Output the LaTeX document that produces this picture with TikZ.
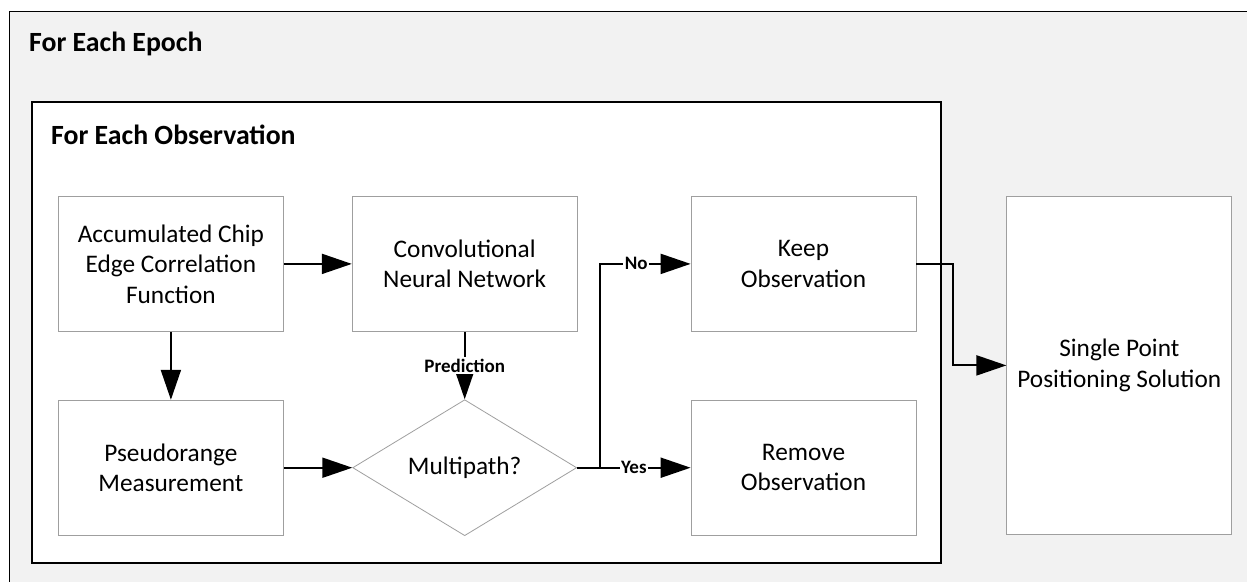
\documentclass[tikz,border=0pt]{standalone}
\usepackage{fontspec}
\setmainfont{Carlito}
\usetikzlibrary{shapes.geometric, arrows.meta, positioning}

\begin{document}
\begin{tikzpicture}[
    x=1pt, y=-1pt,
    node distance=68pt,
    stage/.style={rectangle, draw=gray!75, fill=white, line width=0.8pt, minimum width=225pt, minimum height=135pt, inner sep=0pt, align=center, font=\fontsize{25.3}{30.5}\selectfont},
    decision/.style={diamond, draw=gray!75, fill=white, line width=0.8pt, minimum width=224pt, minimum height=136pt, inner sep=0pt, font=\fontsize{25.3}{30.5}\selectfont},
    frame/.style={rectangle, draw=black, anchor=north west, inner sep=0pt},
    title/.style={anchor=west, inner sep=0pt, font=\fontsize{27.8}{32}\selectfont\bfseries},
    tag/.style={fill=white, inner sep=1.5pt, font=\fontsize{19}{22}\selectfont\bfseries},
    arrow/.style={-{Triangle[length=30pt, width=20pt]}, line width=2pt}
]
\useasboundingbox (0,0) rectangle (1247,581);
\clip (0,0) rectangle (1247,581);

% Frames
\node[frame, fill=gray!10, line width=1.3pt, minimum width=1300pt, minimum height=620pt] (epoch) at (9,11) {};
\node[frame, fill=white, line width=2pt, minimum width=909pt, minimum height=461pt] (obs) at (31,101) {};
\node[title] (epochlbl) at (29,44) {For Each Epoch};
\node[title] (obslbl) at (51,135) {For Each Observation};

\node[stage, anchor=north west] (acc) at (58,196) {Accumulated Chip\\Edge Correlation\\Function};
\node[stage, right=of acc] (cnn) {Convolutional\\Neural Network};
\node[stage, below=of acc] (pseudo) {Pseudorange\\Measurement};
\node[decision] (multi) at (cnn |- pseudo) {Multipath?};
\node[stage, right=113pt of cnn] (keep) {Keep\\Observation};
\node[stage, below=of keep] (remove) {Remove\\Observation};
\node[stage, minimum height=338pt, right=90pt of keep.north east, anchor=north west] (spp) {Single Point\\Positioning Solution};

\draw[arrow] (acc) -- (cnn);
\draw[arrow] (acc) -- (pseudo);
\draw[arrow] (pseudo) -- (multi);
\draw[arrow] (cnn) -- node[tag] {Prediction} (multi);
\draw[arrow] (multi.east) -- node[tag, pos=0.5] {Yes} (remove.west);
\draw[arrow] (multi.east) -- ++(23,0) |- node[tag, pos=0.7] {No} (keep.west);

% Output
\draw[arrow] (keep.east) -- ++(37,0) |- (spp.west);

\end{tikzpicture}
\end{document}
